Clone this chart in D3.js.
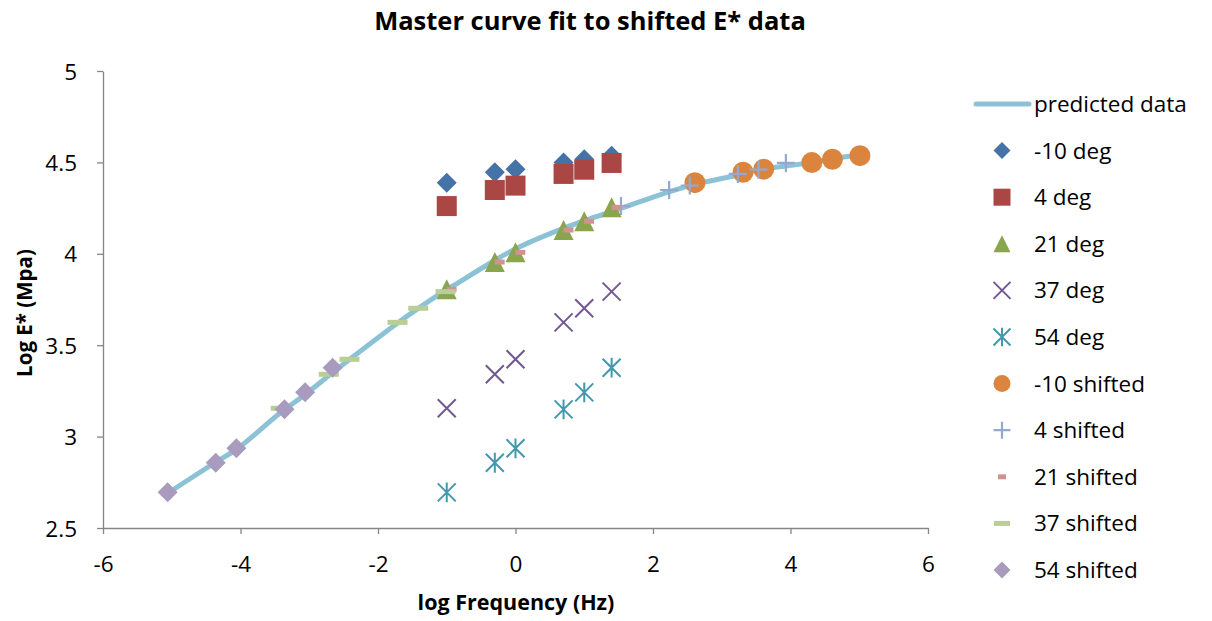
<!DOCTYPE html>
<html>
<head>
<meta charset="utf-8">
<script src="https://cdn.jsdelivr.net/npm/d3@7"></script>
<style>
  html, body { margin: 0; padding: 0; background: #fff; }
  svg { display: block; }
  text { font-family: "Open Sans", Lato, sans-serif; fill: #000; }
</style>
</head>
<body>
<svg id="chart" width="1212" height="621"></svg>
<script>
// ---- data ----
const rawX = [-1, -0.301, 0, 0.699, 1, 1.398];
const yM10 = [4.389, 4.446, 4.463, 4.499, 4.517, 4.537];
const y4 = [4.261, 4.349, 4.373, 4.437, 4.460, 4.497];
const y21 = [3.806, 3.955, 4.008, 4.130, 4.178, 4.254];
const y37 = [3.155, 3.341, 3.423, 3.625, 3.702, 3.793];
const y54 = [2.695, 2.857, 2.936, 3.149, 3.242, 3.377];

const xM10s = [2.61, 3.31, 3.61, 4.31, 4.61, 5.01];
const x4s = [1.535, 2.235, 2.535, 3.234, 3.535, 3.933];
const x21s = [-0.93, -0.23, 0.07, 0.77, 1.07, 1.47];
const x37s = [-3.415, -2.716, -2.415, -1.716, -1.415, -1.017];
const x54s = [-5.06, -4.36, -4.06, -3.36, -3.06, -2.66];

const predX = [-5.06, -4.36, -4.06, -3.42, -3.06, -2.66, -2.42, -1.72, -1.42, -1.02, -0.93, -0.23, 0.07, 0.77, 1.07, 1.47, 2.24, 2.61, 3.23, 3.61, 3.93, 4.31, 4.61, 5.01];
const predY = [2.69, 2.86, 2.93, 3.13, 3.23, 3.35, 3.42, 3.62, 3.70, 3.80, 3.82, 3.98, 4.04, 4.15, 4.19, 4.24, 4.34, 4.38, 4.43, 4.465, 4.48, 4.50, 4.52, 4.54];

const xTicks = [-6, -4, -2, 0, 2, 4, 6];
const yTicks = [2.5, 3, 3.5, 4, 4.5, 5];

const legendLabels = ["predicted data", "-10 deg", "4 deg", "21 deg", "37 deg", "54 deg",
  "-10 shifted", "4 shifted", "21 shifted", "37 shifted", "54 shifted"];

// ---- setup ----
const svg = d3.select("#chart");
const x = d3.scaleLinear().domain([-6, 6]).range([103, 928]);
const y = d3.scaleLinear().domain([2.5, 5]).range([528, 71]);
const axisColor = "#868686";

// symbol drawers
const symbols = {
  diamond: (g, s, c) => g.append("path").attr("d", `M0,${-s}L${s},0L0,${s}L${-s},0Z`).attr("fill", c),
  square: (g, s, c) => g.append("rect").attr("x", -s).attr("y", -s).attr("width", 2*s).attr("height", 2*s).attr("fill", c),
  triangle: (g, s, c) => g.append("path").attr("d", `M0,${-s}L${s},${s}L${-s},${s}Z`).attr("fill", c),
  circle: (g, s, c) => g.append("circle").attr("r", s).attr("fill", c),
  cross: (g, s, c) => g.append("path").attr("d", `M${-s},${-s}L${s},${s}M${-s},${s}L${s},${-s}`).attr("stroke", c).attr("stroke-width", 2).attr("fill", "none"),
  star: (g, s, c) => g.append("path").attr("d", `M${-s},${-s}L${s},${s}M${-s},${s}L${s},${-s}M0,${-s*1.1}L0,${s*1.1}`).attr("stroke", c).attr("stroke-width", 2).attr("fill", "none"),
  plus: (g, s, c) => g.append("path").attr("d", `M${-s},0L${s},0M0,${-s}L0,${s}`).attr("stroke", c).attr("stroke-width", 2.2).attr("fill", "none"),
  dashS: (g, s, c) => g.append("rect").attr("x", -s*0.5).attr("y", -2.5).attr("width", s).attr("height", 5).attr("fill", c),
  dashL: (g, s, c) => g.append("rect").attr("x", -s).attr("y", -2.5).attr("width", 2*s).attr("height", 5).attr("fill", c)
};

const series = [
  { xs: rawX, ys: yM10, sym: "diamond", size: 10, color: "#4572A7" },
  { xs: rawX, ys: y4, sym: "square", size: 10, color: "#AA4643" },
  { xs: rawX, ys: y21, sym: "triangle", size: 10, color: "#89A54E" },
  { xs: rawX, ys: y37, sym: "cross", size: 9, color: "#71588F" },
  { xs: rawX, ys: y54, sym: "star", size: 9, color: "#4198AF" },
  { xs: xM10s, ys: yM10, sym: "circle", size: 10.5, color: "#DB843D" },
  { xs: x4s, ys: y4, sym: "plus", size: 9, color: "#93A9CF" },
  { xs: x21s, ys: y21, sym: "dashS", size: 10, color: "#D19392" },
  { xs: x37s, ys: y37, sym: "dashL", size: 10, color: "#B9CD96" },
  { xs: x54s, ys: y54, sym: "diamond", size: 10, color: "#A99BBD" }
];

// ---- axes ----
const xAxis = svg.append("g").attr("transform", `translate(0,${y(2.5)})`)
  .call(d3.axisBottom(x).tickValues(xTicks).tickSize(6).tickSizeOuter(0).tickPadding(0).tickFormat(d => String(d)));
const yAxis = svg.append("g").attr("transform", `translate(${x(-6)},0)`)
  .call(d3.axisLeft(y).tickValues(yTicks).tickSize(6).tickSizeOuter(0).tickPadding(20).tickFormat(d => String(d)));
[xAxis, yAxis].forEach(a => {
  a.select(".domain").attr("stroke", axisColor).attr("stroke-width", 1.3);
  a.selectAll(".tick line").attr("stroke", axisColor).attr("stroke-width", 1.3);
  a.selectAll(".tick text").style("font-size", "22.5px").style("font-family", "'Open Sans', sans-serif").attr("fill", "#000");
});
xAxis.selectAll(".tick text").attr("y", 44).attr("dy", null);
yAxis.selectAll(".tick text").attr("dy", "0.36em");

// ---- predicted line ----
const pts = predX.map((d, i) => [d, predY[i]]);
svg.append("path").datum(pts)
  .attr("d", d3.line().x(d => x(d[0])).y(d => y(d[1])).curve(d3.curveCatmullRom))
  .attr("fill", "none").attr("stroke", "#8CC2D6").attr("stroke-width", 5).attr("stroke-linecap", "round");

// ---- markers ----
series.forEach(s => {
  s.xs.forEach((xv, i) => {
    const g = svg.append("g").attr("transform", `translate(${x(xv)},${y(s.ys[i])})`);
    symbols[s.sym](g, s.size, s.color);
  });
});

// ---- titles ----
svg.append("text").attr("x", 590).attr("y", 30).attr("text-anchor", "middle")
  .style("font-size", "25.5px").style("font-weight", "bold").text("Master curve fit to shifted E* data");
svg.append("text").attr("x", 516).attr("y", 610).attr("text-anchor", "middle")
  .style("font-size", "21.5px").style("font-weight", "bold").text("log Frequency (Hz)");
svg.append("text").attr("transform", "translate(32,313) rotate(-90)").attr("text-anchor", "middle")
  .style("font-size", "20.5px").style("font-weight", "bold").text("Log E* (Mpa)");

// ---- legend ----
const leg = svg.append("g");
legendLabels.forEach((lab, i) => {
  const cy = 104 + i * 46.6;
  if (i === 0) {
    leg.append("line").attr("x1", 976).attr("x2", 1029).attr("y1", cy).attr("y2", cy)
      .attr("stroke", "#8CC2D6").attr("stroke-width", 5).attr("stroke-linecap", "round");
  } else {
    const s = series[i - 1];
    const g = leg.append("g").attr("transform", `translate(1002,${cy})`);
    const sz = s.sym === "dashS" ? 8 : (s.sym === "dashL" ? 8 : 8.5);
    symbols[s.sym](g, sz, s.color);
  }
  leg.append("text").attr("x", 1034).attr("y", cy + 8)
    .style("font-size", "22.5px").text(lab);
});
</script>
</body>
</html>
